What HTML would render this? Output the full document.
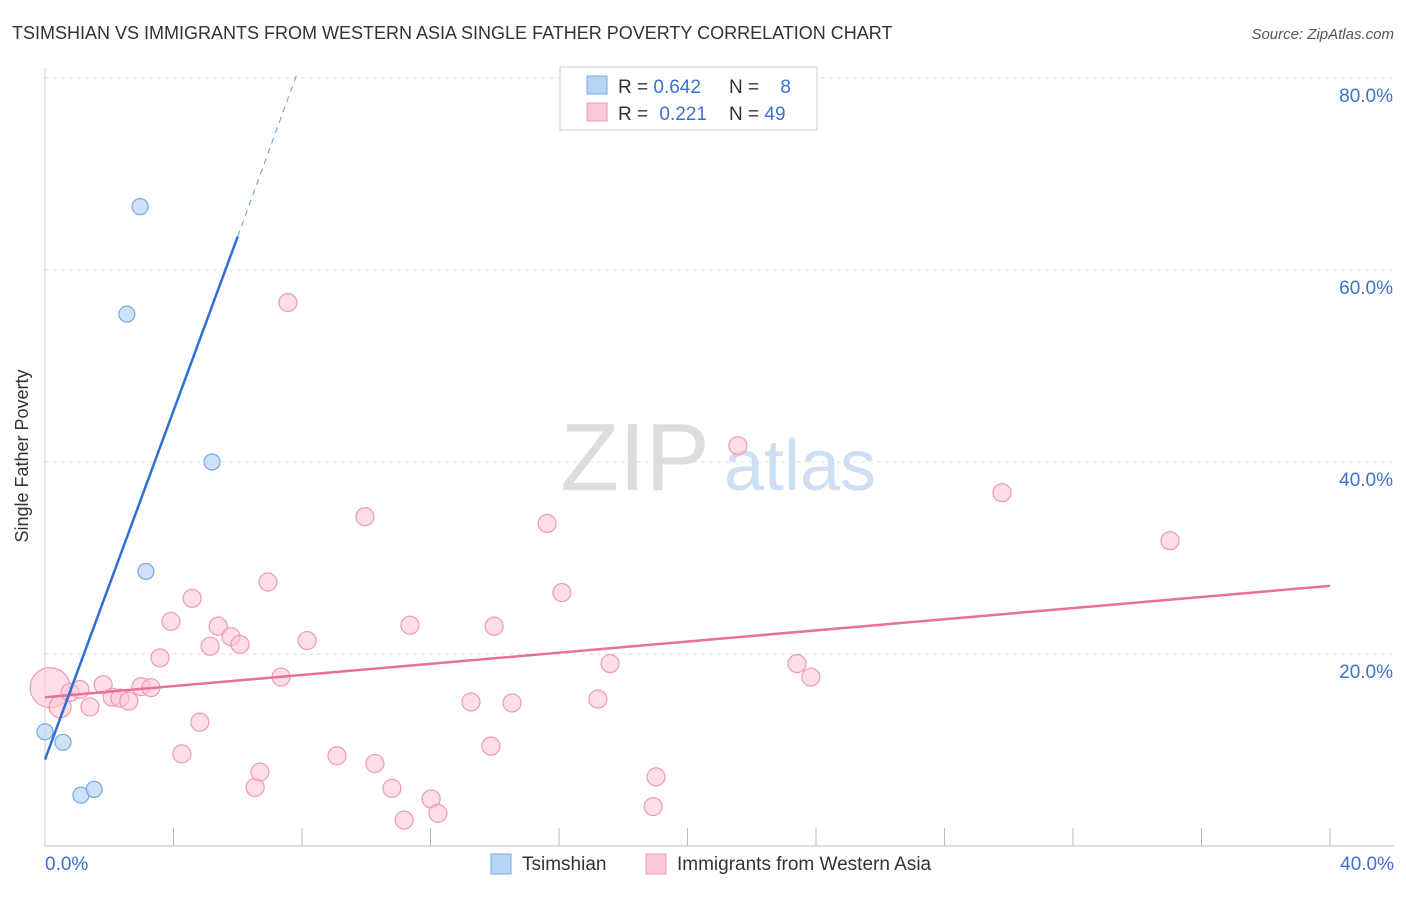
<!DOCTYPE html>
<html><head><meta charset="utf-8"><style>
body{margin:0;background:#fff;font-family:"Liberation Sans",sans-serif;}
svg text{font-family:"Liberation Sans",sans-serif;}
</style></head><body>
<svg width="1406" height="892" xmlns="http://www.w3.org/2000/svg">
<text x="12" y="39" font-size="18" fill="#333">TSIMSHIAN VS IMMIGRANTS FROM WESTERN ASIA SINGLE FATHER POVERTY CORRELATION CHART</text>
<text x="1394" y="39" font-size="15" fill="#555" font-style="italic" text-anchor="end">Source: ZipAtlas.com</text>
<text x="28" y="456" font-size="18" fill="#333" text-anchor="middle" transform="rotate(-90 28 456)">Single Father Poverty</text>
<g>
<text x="635" y="490" font-size="96" fill="#ddd" font-family="Liberation Serif" text-anchor="middle">ZIP</text>
<text x="800" y="490" font-size="72" fill="#cfdff3" text-anchor="middle">atlas</text>
</g>
<g id="grid"></g>
<g id="marks"></g>
<g>
<rect x="560" y="67" width="257" height="63" fill="#fff" stroke="#ccc"/>
<rect x="587" y="76" width="20" height="18" fill="#b8d4f5" stroke="#7aa8e0"/>
<rect x="587" y="103" width="20" height="18" fill="#fcc8d6" stroke="#ee9ab2"/>
<text x="618" y="93" font-size="19" fill="#333">R = <tspan fill="#3a72d0">0.642</tspan></text>
<text x="729" y="93" font-size="19" fill="#333">N = <tspan fill="#3a72d0" dx="16">8</tspan></text>
<text x="618" y="120" font-size="19" fill="#333">R = <tspan fill="#3a72d0" dx="6">0.221</tspan></text>
<text x="729" y="120" font-size="19" fill="#333">N = <tspan fill="#3a72d0">49</tspan></text>
</g>
<g>
<rect x="491" y="854" width="20" height="20" fill="#b8d4f5" stroke="#7aa8e0"/>
<text x="522" y="870" font-size="19" fill="#333">Tsimshian</text>
<rect x="646" y="854" width="20" height="20" fill="#fcc8d6" stroke="#ee9ab2"/>
<text x="677" y="870" font-size="19" fill="#333">Immigrants from Western Asia</text>
</g>
</svg>
<script>
const yTicks=[20,40,60,80];
const yTickLabels=["20.0%","40.0%","60.0%","80.0%"];
const xTicks=[0,4,8,12,16,20,24,28,32,36,40];
const blueX=[2.96,2.55,5.2,3.14,0,0.56,1.12,1.53];
const blueY=[66.6,55.4,40.0,28.6,11.9,10.8,5.3,5.9];
const pinkX=[0.16,0.47,0.78,1.09,1.4,1.81,2.09,2.33,2.61,2.99,3.3,3.58,3.92,4.26,4.58,4.82,5.14,5.39,5.79,6.07,6.54,6.69,6.94,7.35,7.56,8.16,9.09,9.96,10.27,10.8,11.18,11.36,12.02,12.23,13.26,13.88,13.98,14.54,15.63,16.09,17.21,17.59,18.93,19.02,21.57,23.41,23.84,29.79,35.02];
const pinkY=[16.5,14.5,16.0,16.3,14.5,16.8,15.5,15.4,15.1,16.6,16.5,19.6,23.4,9.6,25.8,12.9,20.8,22.9,21.8,21.0,6.1,7.7,27.5,17.6,56.6,21.4,9.4,34.3,8.6,6.0,2.7,23.0,4.9,3.4,15.0,10.4,22.9,14.9,33.6,26.4,15.3,19.0,4.1,7.2,41.7,19.0,17.6,36.8,31.8];
const blueLine=[0,9.0,6.0,63.5,7.85,80.5];
const pinkLine=[0,15.5,40,27.1];
const NS="http://www.w3.org/2000/svg";
const sx=v=>45+v*32.125, sy=v=>846-v*9.6;
function mk(tag,attrs,parent){const e=document.createElementNS(NS,tag);for(const k in attrs)e.setAttribute(k,attrs[k]);parent.appendChild(e);return e;}
const grid=document.getElementById('grid'), marks=document.getElementById('marks');
let a=mk('line',{x1:45,y1:846,x2:1394,y2:846,stroke:'#bbb'},grid);

a=mk('line',{x1:45,y1:68,x2:45,y2:846,stroke:'#ccc'},grid);

yTicks.forEach((t,i)=>{
 const g=mk('line',{x1:45,y1:sy(t),x2:1394,y2:sy(t),stroke:'#ddd','stroke-dasharray':'4 4'},grid);
 
 const l=mk('text',{x:1393,y:sy(t)+24,'font-size':19,fill:'#3a72d0','text-anchor':'end'},grid);
 l.textContent=yTickLabels[i];
 
});
xTicks.forEach(t=>{if(t===0)return;
 const m=mk('line',{x1:sx(t),y1:828,x2:sx(t),y2:846,stroke:'#bbb'},grid);
 });
let xl=mk('text',{x:45,y:870,'font-size':19,fill:'#3a72d0'},grid);xl.textContent='0.0%';

xl=mk('text',{x:1394,y:870,'font-size':19,fill:'#3a72d0','text-anchor':'end'},grid);xl.textContent='40.0%';

pinkX.forEach((x,i)=>{
 const r=i===0?20:(i===1?11:9);
 const c=mk('circle',{cx:sx(x),cy:sy(pinkY[i]),r:r,fill:'#fcc8d6','fill-opacity':0.6,stroke:'#ee9ab2','stroke-width':1.2},marks);
 
});
blueX.forEach((x,i)=>{
 const c=mk('circle',{cx:sx(x),cy:sy(blueY[i]),r:8,fill:'#b8d4f5','fill-opacity':0.7,stroke:'#7aa8e0','stroke-width':1.2},marks);
 
});
let ln=mk('line',{x1:sx(pinkLine[0]),y1:sy(pinkLine[1]),x2:sx(pinkLine[2]),y2:sy(pinkLine[3]),stroke:'#e8709a','stroke-width':2.5},marks);

ln=mk('line',{x1:sx(blueLine[0]),y1:sy(blueLine[1]),x2:sx(blueLine[2]),y2:sy(blueLine[3]),stroke:'#2f6fd6','stroke-width':2.5},marks);

ln=mk('line',{x1:sx(blueLine[2]),y1:sy(blueLine[3]),x2:sx(blueLine[4]),y2:sy(blueLine[5]),stroke:'#7aa8e0','stroke-width':1.2,'stroke-dasharray':'6 5'},marks);

</script>
</body></html>
